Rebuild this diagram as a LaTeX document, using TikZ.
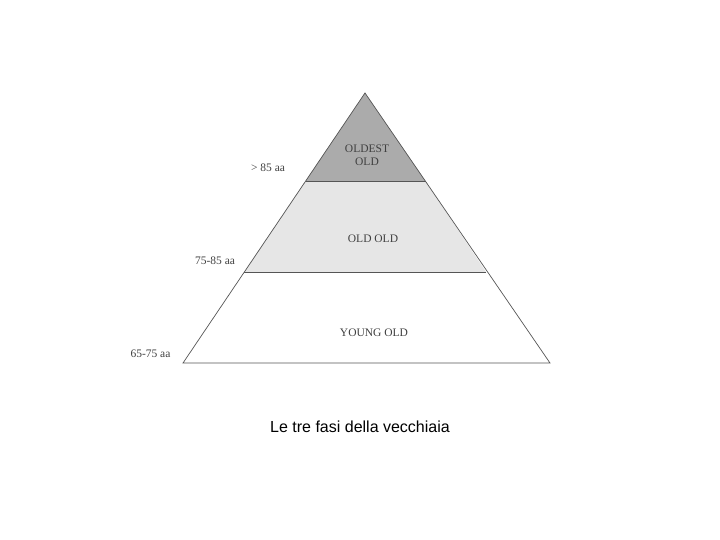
\documentclass[tikz,border=0pt]{standalone}
\usepackage{fontspec}
\setmainfont{Liberation Serif}
\newfontfamily\capfont{Liberation Sans}
\definecolor{topgray}{HTML}{ABABAB}
\definecolor{midgray}{HTML}{E6E6E6}
\definecolor{edgegray}{HTML}{555555}
\tikzset{
  band/.style={draw=edgegray, line width=0.7pt, line join=miter},
  lbl/.style={font=\fontsize{11.5}{13}\selectfont, text=black!75, inner sep=1pt},
  agelbl/.style={font=\fontsize{11.5}{13}\selectfont, text=black!75, inner sep=1pt},
}
\begin{document}
\begin{tikzpicture}[x=1pt,y=-1pt]
\useasboundingbox (0,0) rectangle (720,540);
\coordinate (apex) at (365,93);
\coordinate (l1) at (305.5,181);
\coordinate (r1) at (425.5,181);
\coordinate (l2) at (244,272);
\coordinate (r2) at (486,272);
\coordinate (l3) at (183,363);
\coordinate (r3) at (550,363);
\fill[white] (l2) -- (r2) -- (r3) -- (l3) -- cycle;
\fill[midgray] (l1) -- (r1) -- (r2) -- (l2) -- cycle;
\fill[topgray] (apex) -- (r1) -- (l1) -- cycle;
\draw[band] (apex) -- (l3) -- (r3) -- cycle;
\draw[band] (l1) -- (r1);
\draw[band] (l2) -- (r2);
\node[lbl, align=center] (oo) at (367,155) {OLDEST\\OLD};
\node[lbl] (old) at (373,239) {OLD OLD};
\node[lbl] (yo) at (374,333) {YOUNG OLD};
\node[agelbl] (a85) at (268,168) {> 85 aa};
\node[agelbl] (a75) at (215,261) {75-85 aa};
\node[agelbl] (a65) at (150.5,354) {65-75 aa};
\node[font=\capfont\fontsize{16}{18}\selectfont] (cap) at (360,427) {Le tre fasi della vecchiaia};
\end{tikzpicture}
\end{document}
